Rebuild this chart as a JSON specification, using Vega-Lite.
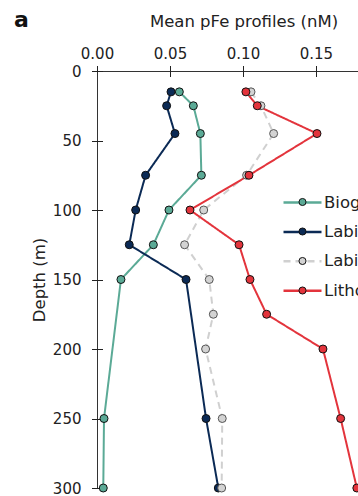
{
  "$schema": "https://vega.github.io/schema/vega-lite/v6.json",
  "width": 261,
  "height": 417,
  "autosize": {"type": "none"},
  "padding": {"left": 97, "top": 71, "right": 0, "bottom": 8},
  "config": {
    "view": {"stroke": null},
    "font": "DejaVu Sans",
    "axis": {"grid": false, "domainColor": "#333333", "tickColor": "#222222", "labelColor": "#222222", "titleColor": "#222222", "titleFontWeight": "normal", "domainWidth": 1, "tickWidth": 1}
  },
  "title": {"text": "a", "anchor": "start", "frame": "group", "fontSize": 22, "fontWeight": "bold", "font": "DejaVu Sans", "color": "#111111", "dx": -83, "dy": 18, "offset": 0},
  "data": {
    "values": [
      {"series": "Biogenic", "depth": 15, "pfe": 0.0564},
      {"series": "Biogenic", "depth": 25, "pfe": 0.066},
      {"series": "Biogenic", "depth": 45, "pfe": 0.0708},
      {"series": "Biogenic", "depth": 75, "pfe": 0.0715},
      {"series": "Biogenic", "depth": 100, "pfe": 0.0493},
      {"series": "Biogenic", "depth": 125, "pfe": 0.0386},
      {"series": "Biogenic", "depth": 150, "pfe": 0.0164},
      {"series": "Biogenic", "depth": 250, "pfe": 0.0048},
      {"series": "Biogenic", "depth": 300, "pfe": 0.0043},
      {"series": "Labile", "depth": 15, "pfe": 0.0507},
      {"series": "Labile", "depth": 25, "pfe": 0.0477},
      {"series": "Labile", "depth": 45, "pfe": 0.0534},
      {"series": "Labile", "depth": 75, "pfe": 0.0333},
      {"series": "Labile", "depth": 100, "pfe": 0.0265},
      {"series": "Labile", "depth": 125, "pfe": 0.0221},
      {"series": "Labile", "depth": 150, "pfe": 0.061},
      {"series": "Labile", "depth": 250, "pfe": 0.0747},
      {"series": "Labile", "depth": 300, "pfe": 0.0831},
      {"series": "Labile (est.)", "depth": 15, "pfe": 0.1055},
      {"series": "Labile (est.)", "depth": 25, "pfe": 0.1123},
      {"series": "Labile (est.)", "depth": 45, "pfe": 0.121},
      {"series": "Labile (est.)", "depth": 75, "pfe": 0.1025},
      {"series": "Labile (est.)", "depth": 100, "pfe": 0.0731},
      {"series": "Labile (est.)", "depth": 125, "pfe": 0.06},
      {"series": "Labile (est.)", "depth": 150, "pfe": 0.0769},
      {"series": "Labile (est.)", "depth": 175, "pfe": 0.0797},
      {"series": "Labile (est.)", "depth": 200, "pfe": 0.0744},
      {"series": "Labile (est.)", "depth": 250, "pfe": 0.0858},
      {"series": "Labile (est.)", "depth": 300, "pfe": 0.0854},
      {"series": "Lithogenic", "depth": 15, "pfe": 0.102},
      {"series": "Lithogenic", "depth": 25, "pfe": 0.1098},
      {"series": "Lithogenic", "depth": 45, "pfe": 0.1507},
      {"series": "Lithogenic", "depth": 75, "pfe": 0.1041},
      {"series": "Lithogenic", "depth": 100, "pfe": 0.0637},
      {"series": "Lithogenic", "depth": 125, "pfe": 0.0973},
      {"series": "Lithogenic", "depth": 150, "pfe": 0.1048},
      {"series": "Lithogenic", "depth": 175, "pfe": 0.1162},
      {"series": "Lithogenic", "depth": 200, "pfe": 0.1548},
      {"series": "Lithogenic", "depth": 250, "pfe": 0.1669},
      {"series": "Lithogenic", "depth": 300, "pfe": 0.178}
    ]
  },
  "layer": [
    {
      "mark": {"type": "line", "strokeWidth": 2},
      "encoding": {
        "x": {"field": "pfe", "type": "quantitative", "scale": {"domain": [0, 0.1788], "nice": false, "zero": false},
          "axis": {"orient": "top", "title": "Mean pFe profiles (nM)", "values": [0, 0.05, 0.1, 0.15], "format": ".2f", "ticks": false, "labelPadding": 10, "labelFontSize": 15, "titleFontSize": 16.5, "titleX": 146.5, "titleY": -44.3, "titleBaseline": "alphabetic", "titleAlign": "center", "titleAnchor": null, "labelFlush": false}},
        "y": {"field": "depth", "type": "quantitative", "scale": {"domain": [0, 300], "reverse": true, "nice": false},
          "axis": {"orient": "left", "title": "Depth (m)", "values": [0, 50, 100, 150, 200, 250, 300], "ticks": false, "labelPadding": 16, "labelFontSize": 15, "titleFontSize": 16.5, "titlePadding": 5, "labelFlush": false}},
        "color": {"field": "series", "type": "nominal",
          "scale": {"range": ["#5BAA96", "#0B2A55", "#D0D0D0", "#E3343C"]},
          "legend": {"title": null, "orient": "none", "legendX": 185, "legendY": 111, "symbolType": "stroke", "symbolSize": 1444, "symbolStrokeWidth": 2.5, "labelFontSize": 16.5, "labelOffset": 1, "rowPadding": 0.4, "padding": 0, "labelColor": "#222222"}},
        "strokeDash": {"field": "series", "type": "nominal",
          "scale": {"range": [[1, 0], [1, 0], [7, 5], [1, 0]]},
          "legend": {"title": null, "orient": "none", "legendX": 185, "legendY": 111, "symbolType": "stroke", "symbolSize": 1444, "symbolStrokeWidth": 2.5, "labelFontSize": 16.5, "labelOffset": 1, "rowPadding": 0.4, "padding": 0, "labelColor": "#222222"}},
        "order": {"field": "depth", "type": "quantitative"}
      }
    },
    {
      "mark": {"type": "point", "filled": true, "size": 64, "strokeWidth": 1, "opacity": 1},
      "encoding": {
        "x": {"field": "pfe", "type": "quantitative",
          "axis": {"orient": "top", "title": null, "labels": false, "domain": false, "ticks": true, "tickSize": 11, "offset": -5.5, "values": [0, 0.05, 0.1, 0.15]}},
        "y": {"field": "depth", "type": "quantitative",
          "axis": {"orient": "left", "title": null, "labels": false, "domain": false, "ticks": true, "tickSize": 11, "offset": -5.5, "values": [0, 50, 100, 150, 200, 250, 300]}},
        "fill": {"field": "series", "type": "nominal",
          "scale": {"domain": ["Biogenic", "Labile", "Labile (est.)", "Lithogenic"], "range": ["#5BAA96", "#0B2A55", "#D3D3D3", "#E3343C"]},
          "legend": {"title": null, "orient": "none", "legendX": 197.5, "legendY": 123, "symbolType": "circle", "symbolSize": 50, "symbolStrokeColor": "#111111", "symbolStrokeWidth": 1, "labelFontSize": 16, "labelOpacity": 0, "rowPadding": 13.5, "padding": 0}},
        "stroke": {"condition": {"test": "datum.series === 'Labile (est.)'", "value": "#555555"}, "value": "#111111"}
      }
    }
  ],
  "resolve": {"axis": {"x": "independent", "y": "independent"}, "legend": {"fill": "independent", "color": "independent", "strokeDash": "independent"}}
}
